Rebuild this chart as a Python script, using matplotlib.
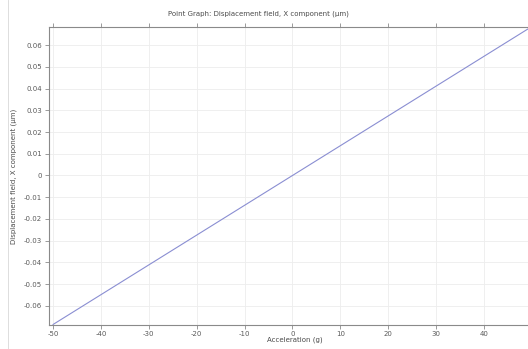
import matplotlib
matplotlib.use("Agg")
import matplotlib.pyplot as plt
import numpy as np

# Data: acceleration (g) vs displacement X component (µm)
acceleration = [-50, 50]
displacement = [-0.0685, 0.0685]

xticks = [-50, -40, -30, -20, -10, 0, 10, 20, 30, 40, 50]
yticks = [-0.06, -0.05, -0.04, -0.03, -0.02, -0.01, 0, 0.01, 0.02, 0.03, 0.04, 0.05, 0.06]
ytick_labels = ["-0.06", "-0.05", "-0.04", "-0.03", "-0.02", "-0.01", "0",
                "0.01", "0.02", "0.03", "0.04", "0.05", "0.06"]

W, H = 528, 349
fig = plt.figure(figsize=(W / 100, H / 100), dpi=100)
fig.patch.set_facecolor("white")

left, right, top, bottom = 49, 540, 27, 325
ax = fig.add_axes([left / W, 1 - bottom / H, (right - left) / W, (bottom - top) / H])

ax.plot(acceleration, displacement, color="#8a8ed2", lw=0.8)

ax.set_xlim(-50.85, 51.7)
ax.set_ylim(-0.06874, 0.06828)
ax.set_xticks(xticks)
ax.set_xticklabels([str(t) for t in xticks])
ax.set_yticks(yticks)
ax.set_yticklabels(ytick_labels)

tc = "#5a5a5a"
ax.tick_params(axis="both", labelsize=5, colors="#8a8a8a", labelcolor=tc,
               length=3, width=0.6, direction="out", pad=2)
ax.tick_params(axis="x", top=True, pad=1.5)
ax.grid(True, color="#ededed", lw=0.6)
for s in ax.spines.values():
    s.set_color("#8a8a8a")
    s.set_linewidth(0.8)
ax.spines["right"].set_visible(False)

ax.set_xlabel("Acceleration (g)", fontsize=5, color="#4a4a4a", labelpad=-0.5)
ax.set_ylabel("Displacement field, X component (µm)", fontsize=5, color="#4a4a4a", labelpad=5)
fig.text(258 / W, 1 - 14 / H, "Point Graph: Displacement field, X component (µm)",
         fontsize=5, color="#4a4a4a", ha="center", va="center")

# thin frame line at left
fig.add_artist(plt.Line2D([8 / W, 8 / W], [0, 1], color="#d8d8d8", lw=0.6))

fig.savefig("out.png", dpi=100)
